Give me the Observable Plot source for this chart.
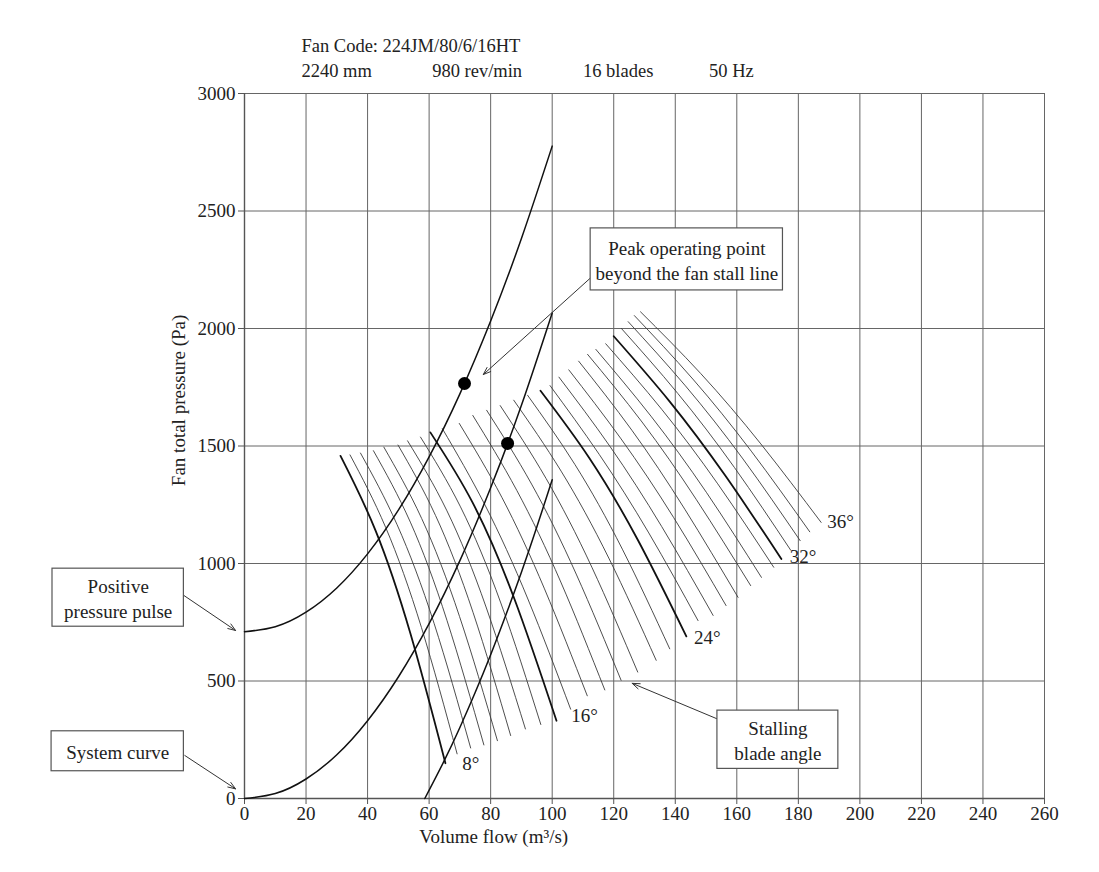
<!DOCTYPE html>
<html><head><meta charset="utf-8">
<script src="https://cdn.jsdelivr.net/npm/d3@7"></script>
<script src="https://cdn.jsdelivr.net/npm/@observablehq/plot@0.6"></script>
<style>
body{margin:0;background:#fff;}
#chart svg{display:block}
</style></head><body><div id="chart"></div>
<script>
// axis ticks
const xTicks = [0,20,40,60,80,100,120,140,160,180,200,220,240,260];
const yTicks = [0,500,1000,1500,2000,2500,3000];

// system curves (Q in m3/s, P in Pa)
const sysQ = [0,10,20,30,40,50,60,70,80,90,100];
const systemP = [0,21,83,186,331,517,744,1012,1322,1673,2066];
const pulseP = [710,731,793,896,1041,1227,1454,1722,2032,2383,2776];
const negQ = [58.6,65,70,75,80,85,90,95,100];
const negP = [0,163,302,452,612,783,963,1155,1356];

// operating points
const opQ = [71.5,85.5];
const opP = [1766,1511];

// fan characteristic curves, blade angles 8..36 degrees
const angles = [8,9,10,11,12,13,14,15,16,17,18,19,20,21,22,23,24,25,26,27,28,29,30,31,32,33,34,35,36];
const boldAngles = [8,16,24,32];
const fanStartQ = [31.2,34.3,37.7,41.9,45.3,49.9,53,57.2,60.4,64.3,69.8,74.2,78.7,83.1,87.5,92.0,96.2,99.3,102.2,105.4,108.6,111.5,114.2,117.4,120.0,122.5,124.7,126.7,128.7];
const fanStartP = [1458,1462,1470,1480,1495,1504,1522,1538,1558,1574,1596,1630,1652,1672,1695,1716,1735,1757,1793,1824,1861,1890,1911,1935,1967,2000,2029,2055,2071];
const fanMid1Q = [42.6,45.9,49.6,53.9,57.6,62.1,65.8,70.2,74.1,78.2,83.7,88.5,93.3,98.0,102.9,107.4,112.0,115.3,118.9,122.4,125.9,129.2,132.1,135.6,138.2,140.8,143.3,145.7,148.3];
const fanMid1P = [1140,1153,1165,1176,1191,1204,1224,1241,1260,1248,1280,1311,1338,1362,1393,1421,1450,1464,1496,1530,1567,1602,1627,1656,1689,1724,1756,1785,1808];
const fanMid2Q = [53.9,57.5,61.6,65.8,69.9,74.3,78.5,83.3,87.7,92.1,97.5,102.8,107.8,112.9,118.4,122.8,127.8,131.4,135.6,139.5,143.1,146.8,150.1,153.8,156.3,159.2,162.0,164.7,167.8];
const fanMid2P = [703,728,746,758,774,791,815,832,850,849,892,921,955,984,1023,1061,1101,1130,1157,1195,1231,1273,1303,1339,1373,1409,1445,1478,1509];
const fanEndQ = [65.3,69.1,73.5,77.8,82.2,86.5,91.3,96.3,101.4,106.0,111.4,117.1,122.4,127.8,133.8,138.2,143.6,147.4,152.3,156.5,160.4,164.5,168.0,172.0,174.5,177.5,180.6,183.7,187.4];
const fanEndP = [150,190,215,228,246,268,296,315,331,380,437,462,503,538,588,637,690,757,779,821,856,906,941,984,1019,1057,1097,1135,1175];

// angle labels
const degLabel = ["8°","16°","24°","32°","36°"];
const degQ = [70.8,106.2,146.1,177.2,189.4];
const degP = [148,350,684,1029,1179];

// annotation boxes and arrows
const boxText = ["Peak operating point\nbeyond the fan stall line","Positive\npressure pulse","System curve","Stalling\nblade angle"];
const boxQ1 = [112.5,-62.4,-62.7,153.7];
const boxQ2 = [175,-19.7,-19.7,193];
const boxP1 = [2162,731,116,126];
const boxP2 = [2426,978,286,374];
const arrowFromQ = [112.7,-19.7,-19.4,153.6];
const arrowFromP = [2218,864,183,339];
const arrowToQ = [77.6,-2.9,-2.9,126];
const arrowToP = [1804,715,41,490];

// header and axis titles
const headerText = ["Fan Code: 224JM/80/6/16HT","2240 mm","980 rev/min","16 blades","50 Hz"];
const headerQ = [18.5,18.5,61,110,151];
const headerP = [3200,3096,3096,3096,3096];
const xTitle = "Volume flow (m³/s)";
const yTitle = "Fan total pressure (Pa)";

// tables
const mk = (Q, P) => Q.map((q, i) => ({Q: q, P: P[i]}));
const sysRows = [
  ...mk(sysQ, systemP).map(d => ({...d, c: "system"})),
  ...mk(sysQ, pulseP).map(d => ({...d, c: "pulse"})),
  ...mk(negQ, negP).map(d => ({...d, c: "neg"}))
];
const fanRows = angles.flatMap((a, i) => [
  {angle: a, Q: fanStartQ[i], P: fanStartP[i]},
  {angle: a, Q: fanMid1Q[i], P: fanMid1P[i]},
  {angle: a, Q: fanMid2Q[i], P: fanMid2P[i]},
  {angle: a, Q: fanEndQ[i], P: fanEndP[i]}
]);
const thin = fanRows.filter(d => !boldAngles.includes(d.angle));
const bold = fanRows.filter(d => boldAngles.includes(d.angle));
const boxes = boxText.map((t, i) => ({t, q1: boxQ1[i], q2: boxQ2[i], p1: boxP1[i], p2: boxP2[i], qc: (boxQ1[i]+boxQ2[i])/2, pc: (boxP1[i]+boxP2[i])/2}));
const arrows = arrowFromQ.map((q, i) => ({q1: q, p1: arrowFromP[i], q2: arrowToQ[i], p2: arrowToP[i]}));
const degs = degLabel.map((t, i) => ({t, Q: degQ[i], P: degP[i]}));
const header = headerText.map((t, i) => ({t, Q: headerQ[i], P: headerP[i]}));
const ops = mk(opQ, opP);

const font = "'Liberation Serif','Times New Roman',serif";

const chart = Plot.plot({
  width: 1099, height: 872,
  marginLeft: 244, marginRight: 55, marginTop: 93, marginBottom: 74,
  style: {fontFamily: font, fontSize: "19px", background: "#fff", color: "#222"},
  x: {domain: [0, 260]},
  y: {domain: [0, 3000]},
  marks: [
    Plot.gridX(xTicks, {stroke: "#666", strokeOpacity: 1, strokeWidth: 1}),
    Plot.gridY(yTicks, {stroke: "#666", strokeOpacity: 1, strokeWidth: 1}),
    Plot.ruleX([0], {stroke: "#555", strokeWidth: 1.4}),
    Plot.ruleY([0], {stroke: "#555", strokeWidth: 1.4}),
    Plot.axisX(xTicks, {tickSize: 6, tickPadding: 2, label: null, fontSize: 19, stroke: "#555", tickFormat: d => String(d)}),
    Plot.axisY(yTicks, {tickSize: 6, tickPadding: 3, label: null, fontSize: 19, stroke: "#555", tickFormat: d => String(d)}),
    Plot.line(thin, {x: "Q", y: "P", z: "angle", curve: "natural", stroke: "#3a3a3a", strokeWidth: 0.9}),
    Plot.line(bold, {x: "Q", y: "P", z: "angle", curve: "natural", stroke: "#111", strokeWidth: 1.8}),
    Plot.line(sysRows, {x: "Q", y: "P", z: "c", curve: "natural", stroke: "#111", strokeWidth: 1.5}),
    Plot.dot(ops, {x: "Q", y: "P", r: 6.5, fill: "#000", stroke: "none"}),
    Plot.text(degs, {x: "Q", y: "P", text: "t", textAnchor: "start", fontSize: 19, fill: "#222"}),
    Plot.arrow(arrows, {x1: "q1", y1: "p1", x2: "q2", y2: "p2", stroke: "#333", strokeWidth: 1, headLength: 12, headAngle: 40}),
    Plot.rect(boxes, {x1: "q1", x2: "q2", y1: "p1", y2: "p2", fill: "#fff", stroke: "#555", strokeWidth: 1.2}),
    Plot.text(boxes, {x: "qc", y: "pc", text: "t", lineHeight: 1.3, fontSize: 19, fill: "#222"}),
    Plot.text(header, {x: "Q", y: "P", text: "t", textAnchor: "start", fontSize: 18.5, fill: "#222"}),
    Plot.text([xTitle], {x: 81, y: -162, text: d => d, fontSize: 19, fill: "#222"}),
    Plot.text([yTitle], {x: -21.4, y: 1694, text: d => d, rotate: -90, fontSize: 19, fill: "#222"})
  ]
});
document.getElementById("chart").append(chart);
</script></body></html>
